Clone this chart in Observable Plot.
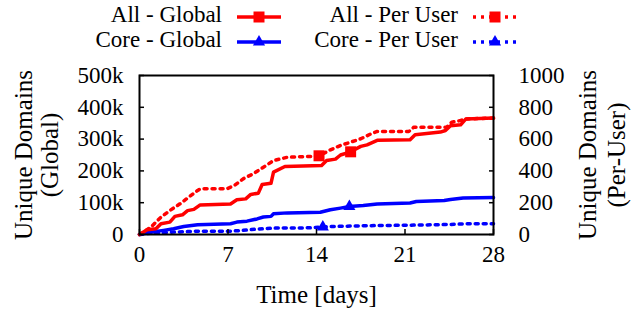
<!DOCTYPE html>
<html>
<head>
<meta charset="utf-8">
<script src="https://cdn.jsdelivr.net/npm/d3@7"></script>
<script src="https://cdn.jsdelivr.net/npm/@observablehq/plot@0.6"></script>
<style>
  html, body { margin: 0; padding: 0; background: white; }
  #wrap { width: 634px; height: 314px; position: relative; overflow: hidden; font-family: "Liberation Serif", serif; }
  #legend { display: block; }
</style>
</head>
<body>
<div id="wrap"></div>
<script>
// ---- data ----
const seriesNames = ["All - Global", "Core - Global", "All - Per User", "Core - Per User"];
const colors = ["#ff0000", "#0000ff", "#ff0000", "#0000ff"];
const leftTitle = "Unique Domains\n(Global)";
const rightTitle = "Unique Domains\n(Per-User)";
const xTitle = "Time [days]";

// All - Global (thousands of domains)
const allGlobalDays = [0, 0.6, 1.3, 1.7, 2.4, 2.8, 3.4, 3.8, 4.3, 4.8, 7.2, 7.7, 8.4, 8.8, 9.4, 9.7, 10.4, 10.6, 11.5, 14.4, 14.8, 15.5, 15.9, 16.7, 17.5, 18.0, 18.8, 21.4, 21.8, 23.8, 24.2, 24.6, 25.4, 25.8, 28];
const allGlobalK    = [0, 15, 18, 34, 39, 57, 62, 75, 79, 93, 96, 109, 112, 126, 130, 157, 161, 196, 214, 217, 233, 237, 250, 260, 277, 282, 296, 298, 314, 322, 327, 342, 345, 363, 366];

// Core - Global (thousands of domains)
const coreGlobalDays = [0, 0.9, 1.9, 2.7, 3.5, 4.6, 7.2, 7.7, 8.5, 9.3, 9.8, 10.4, 10.6, 11.7, 14.3, 15.1, 15.9, 16.6, 17.7, 18.8, 21.4, 21.9, 24.1, 24.6, 25.6, 28];
const coreGlobalK    = [0, 7, 13, 18, 25, 31, 34, 39, 42, 49, 55, 57, 65, 68, 70, 78, 83, 88, 91, 96, 99, 104, 107, 110, 115, 116];

// All - Per User (domains per user)
const allUserDays = [0, 0.9, 1.7, 2.4, 3.2, 3.9, 4.6, 4.8, 6.9, 7.5, 8.2, 9.0, 9.8, 10.6, 11.7, 13.5, 14.2, 15.1, 15.9, 16.7, 17.5, 18.3, 18.8, 21.3, 21.7, 24.3, 24.7, 25.4, 25.8, 28];
const allUserVals = [0, 46, 109, 151, 193, 235, 277, 287, 287, 308, 350, 382, 423, 465, 486, 491, 495, 532, 560, 581, 602, 633, 648, 648, 675, 675, 706, 717, 727, 732];

// Core - Per User (domains per user)
const coreUserDays = [0, 0.9, 2.7, 4.6, 7.2, 8.0, 9.3, 10.6, 13.5, 14.5, 15.1, 17.7, 21.7, 24.6, 25.6, 28];
const coreUserVals = [0, 8, 15, 21, 21, 25, 34, 40, 42, 47, 50, 55, 59, 63, 67, 67];

// marker positions (day) for each series
const markerDays = [16.7, 16.6, 14.2, 14.5];

// axis ticks
const xTicks = [0, 7, 14, 21, 28];
const leftTicksK = [0, 100, 200, 300, 400, 500];
const rightTicks = [0, 200, 400, 600, 800, 1000];

// ---- build table ----
const SCALE = 500; // 1 per-user domain == 500 global domains on the shared axis
const rows = [];
allGlobalDays.forEach((d, i) => rows.push({s: 0, day: d, y: allGlobalK[i] * 1000}));
coreGlobalDays.forEach((d, i) => rows.push({s: 1, day: d, y: coreGlobalK[i] * 1000}));
allUserDays.forEach((d, i) => rows.push({s: 2, day: d, y: allUserVals[i] * SCALE}));
coreUserDays.forEach((d, i) => rows.push({s: 3, day: d, y: coreUserVals[i] * SCALE}));
const markers = rows.filter(r => r.day === markerDays[r.s]);

const font = "Liberation Serif";
const fsTick = 23;
const fsLegend = 23;
const fsTitle = 25;

// ---- legend ----
const wrap = d3.select("#wrap");
const leg = wrap.append("svg").attr("id", "legend").attr("width", 634).attr("height", 60)
  .style("font-family", font).style("font-size", fsLegend + "px");
const legendItems = [
  {s: 0, tx: 222, ty: 17, lx: 237},
  {s: 2, tx: 458, ty: 17, lx: 473},
  {s: 1, tx: 222, ty: 42, lx: 237},
  {s: 3, tx: 458, ty: 42, lx: 473}
];
const sym = s => (s % 2 === 0) ? d3.symbol(d3.symbolSquare, 121)() : d3.symbol(d3.symbolTriangle, 64)();
legendItems.forEach(it => {
  const g = leg.append("g");
  g.append("text").attr("x", it.tx).attr("y", it.ty).attr("text-anchor", "end")
    .attr("dominant-baseline", "middle").attr("fill", "black").text(seriesNames[it.s]);
  g.append("line").attr("x1", it.lx).attr("x2", it.lx + 44).attr("y1", it.ty).attr("y2", it.ty)
    .attr("stroke", colors[it.s]).attr("stroke-width", 3.5)
    .attr("stroke-dasharray", it.s >= 2 ? "3,5" : null);
  g.append("path").attr("d", sym(it.s)).attr("transform", `translate(${it.lx + 22},${it.ty})`)
    .attr("fill", colors[it.s]);
});

// ---- chart ----
const chart = Plot.plot({
  width: 634,
  height: 254,
  marginTop: 15,
  marginBottom: 80,
  marginLeft: 139,
  marginRight: 141,
  style: {fontFamily: font, fontSize: fsTick + "px", color: "black", background: "white", overflow: "visible"},
  x: {domain: [0, 28]},
  y: {domain: [0, 500000]},
  marks: [
    Plot.line(rows.filter(r => r.s === 3), {x: "day", y: "y", stroke: colors[3], strokeWidth: 3.5, strokeDasharray: "3,5"}),
    Plot.line(rows.filter(r => r.s === 2), {x: "day", y: "y", stroke: colors[2], strokeWidth: 3.5, strokeDasharray: "3,5"}),
    Plot.line(rows.filter(r => r.s === 1), {x: "day", y: "y", stroke: colors[1], strokeWidth: 3.5}),
    Plot.line(rows.filter(r => r.s === 0), {x: "day", y: "y", stroke: colors[0], strokeWidth: 3.5}),
    Plot.dot(markers.filter(r => r.s % 2 === 0), {x: "day", y: "y", symbol: "square", r: 6.2, fill: d => colors[d.s], stroke: null}),
    Plot.dot(markers.filter(r => r.s % 2 === 1), {x: "day", y: "y", symbol: "triangle", r: 4.5, fill: d => colors[d.s], stroke: null}),
    Plot.frame({stroke: "black", strokeWidth: 2}),
    Plot.axisX({ticks: xTicks, tickSize: -5, tickPadding: 16, label: null, strokeWidth: 1.5}),
    Plot.axisY({anchor: "left", ticks: leftTicksK.map(v => v * 1000), tickSize: -5, tickPadding: 21, strokeWidth: 1.5,
      tickFormat: d => d === 0 ? "0" : (d / 1000) + "k", label: null}),
    Plot.axisY({anchor: "right", ticks: rightTicks.map(v => v * SCALE), tickSize: -5, tickPadding: 30, strokeWidth: 1.5,
      tickFormat: d => String(d / SCALE), label: null}),
    Plot.text([xTitle], {frameAnchor: "bottom", dy: 68, fontSize: fsTitle, fill: "black"}),
    Plot.text([leftTitle], {frameAnchor: "left", textAnchor: "middle", rotate: -90, dx: -103, lineHeight: 1.05, fontSize: fsTitle, fill: "black"}),
    Plot.text([rightTitle], {frameAnchor: "right", textAnchor: "middle", rotate: -90, dx: 108, lineHeight: 1.15, fontSize: fsTitle, fill: "black"})
  ]
});
wrap.node().appendChild(chart);
</script>
</body>
</html>
